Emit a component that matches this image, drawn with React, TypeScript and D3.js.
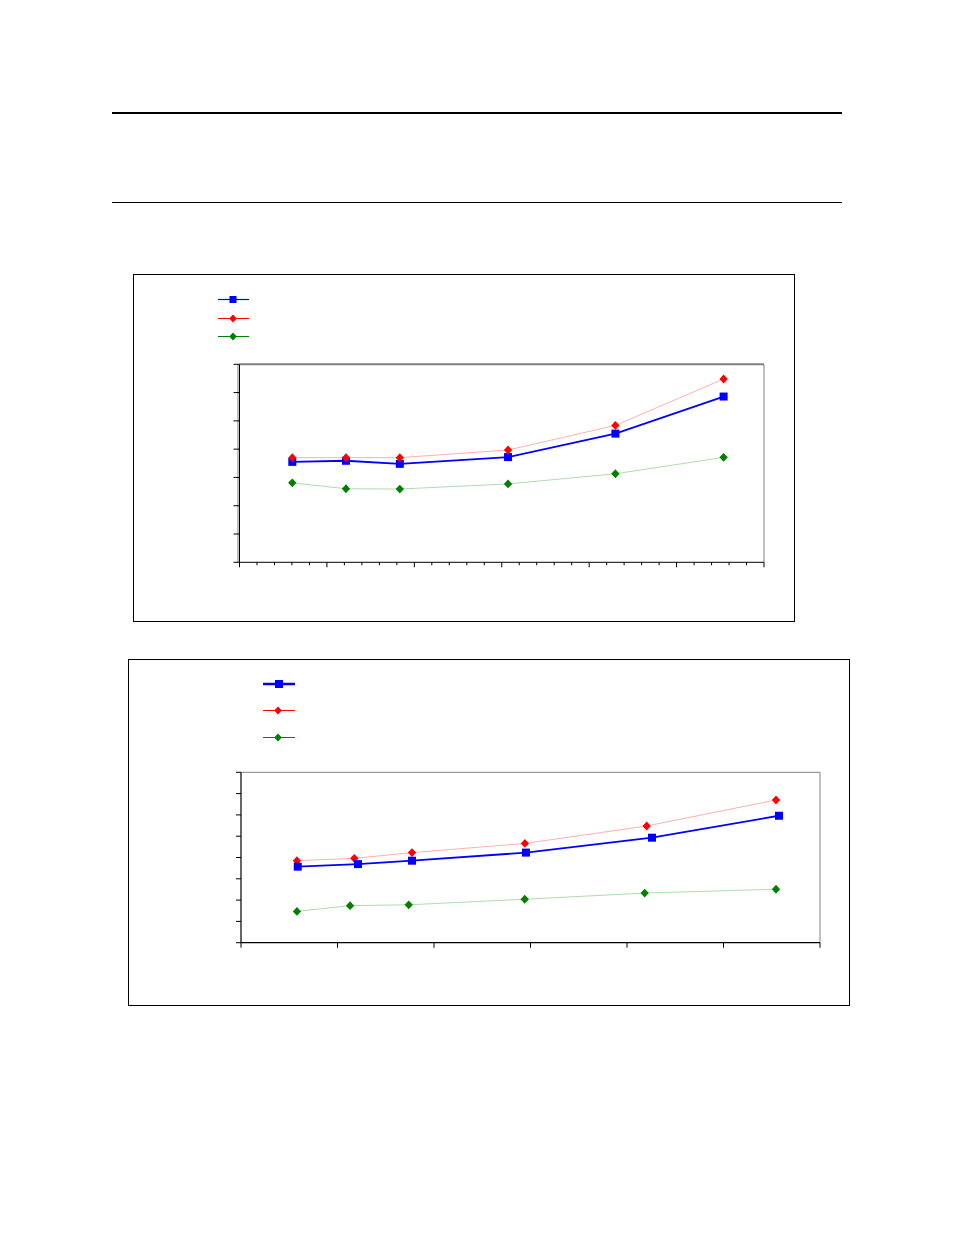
import React from "react";
import * as d3 from "d3";

// Chart 1 data
const c1X = [3.02, 6.09, 9.17, 15.36, 21.5, 27.69];
const c1Blue = [3.55, 3.59, 3.48, 3.72, 4.55, 5.86];
const c1Red = [3.7, 3.7, 3.7, 3.97, 4.84, 6.48];
const c1Green = [2.81, 2.6, 2.59, 2.77, 3.13, 3.71];
const c1YTicks = [0, 1, 2, 3, 4, 5, 6, 7];
const c1XMajor = [0, 5, 10, 15, 20, 25, 30];

// Chart 2 data
const c2XBlue = [5.88, 12.12, 17.72, 29.53, 42.59, 55.75];
const c2XRed = [5.8, 11.74, 17.72, 29.42, 42.04, 55.44];
const c2XGreen = [5.8, 11.3, 17.38, 29.4, 41.83, 55.44];
const c2Blue = [3.57, 3.69, 3.85, 4.23, 4.93, 5.96];
const c2Red = [3.85, 3.96, 4.23, 4.66, 5.48, 6.7];
const c2Green = [1.47, 1.74, 1.78, 2.04, 2.33, 2.51];
const c2YTicks = [0, 1, 2, 3, 4, 5, 6, 7, 8];
const c2XMajor = [0, 10, 20, 30, 40, 50, 60];

const BLUE = "#0000ff";
const RED = "#ff0000";
const GREEN = "#008000";
const PINK = "#ffb0b0";
const LGREEN = "#b0dcb0";

function Square({ x, y, s = 8 }: { x: number; y: number; s?: number }) {
  return <rect x={x - s / 2} y={y - s / 2} width={s} height={s} fill={BLUE} />;
}
function Diamond({ x, y, r = 4.4, c }: { x: number; y: number; r?: number; c: string }) {
  return <path d={`M${x},${y - r}L${x + r * 0.95},${y}L${x},${y + r}L${x - r * 0.95},${y}Z`} fill={c} />;
}

function Chart1() {
  const x = d3.scaleLinear().domain([0, 30]).range([239.5, 764]);
  const y = d3.scaleLinear().domain([0, 7]).range([562.3, 364.3]);
  const line = d3.line<[number, number]>().x((d) => x(d[0])).y((d) => y(d[1]));
  const minor = d3.range(0, 31, 1).filter((v) => v % 5 !== 0);
  const pts = (ys: number[]) => c1X.map((v, i) => [v, ys[i]] as [number, number]);
  return (
    <g>
      <rect x={133.5} y={274.5} width={661} height={347} fill="none" stroke="#000" strokeWidth={1} />
      {/* legend */}
      <line x1={218} x2={249} y1={299.5} y2={299.5} stroke={BLUE} strokeWidth={1.2} />
      <Square x={233} y={299.5} s={7} />
      <line x1={218} x2={249} y1={318.5} y2={318.5} stroke={RED} strokeWidth={1} />
      <Diamond x={233} y={318.5} r={4} c={RED} />
      <line x1={218} x2={249} y1={336.5} y2={336.5} stroke={GREEN} strokeWidth={1} />
      <Diamond x={233} y={336.5} r={4} c={GREEN} />
      {/* plot frame */}
      <line x1={x(0)} x2={x(30)} y1={y(7)} y2={y(7)} stroke="#808080" strokeWidth={2} />
      <line x1={x(30)} x2={x(30)} y1={y(7)} y2={y(0)} stroke="#808080" strokeWidth={1} />
      <line x1={x(0) - 1.5} x2={x(0) - 1.5} y1={y(7)} y2={y(0)} stroke="#808080" strokeWidth={1} />
      <line x1={x(0)} x2={x(0)} y1={y(7)} y2={y(0)} stroke="#000" strokeWidth={1} />
      <line x1={x(0)} x2={x(30)} y1={y(0)} y2={y(0)} stroke="#000" strokeWidth={1} />
      {c1YTicks.map((t) => (
        <line key={t} x1={x(0) - 6} x2={x(0)} y1={y(t)} y2={y(t)} stroke="#000" strokeWidth={1} />
      ))}
      {c1XMajor.map((t) => (
        <line key={t} x1={x(t)} x2={x(t)} y1={y(0)} y2={y(0) + 5} stroke="#000" strokeWidth={1} />
      ))}
      {minor.map((t) => (
        <line key={t} x1={x(t)} x2={x(t)} y1={y(0)} y2={y(0) + 3} stroke="#000" strokeWidth={1} />
      ))}
      {/* series */}
      <path d={line(pts(c1Red))!} fill="none" stroke={PINK} strokeWidth={1} />
      <path d={line(pts(c1Green))!} fill="none" stroke={LGREEN} strokeWidth={1} />
      <path d={line(pts(c1Blue))!} fill="none" stroke={BLUE} strokeWidth={1.8} />
      {pts(c1Green).map((d, i) => <Diamond key={"g" + i} x={x(d[0])} y={y(d[1])} c={GREEN} />)}
      {pts(c1Blue).map((d, i) => <Square key={"b" + i} x={x(d[0])} y={y(d[1])} />)}
      {pts(c1Red).map((d, i) => <Diamond key={"r" + i} x={x(d[0])} y={y(d[1])} c={RED} />)}
    </g>
  );
}

function Chart2() {
  const x = d3.scaleLinear().domain([0, 60]).range([241, 820]);
  const y = d3.scaleLinear().domain([0, 8]).range([942.7, 772.3]);
  const line = d3.line<[number, number]>().x((d) => x(d[0])).y((d) => y(d[1]));
  const pts = (xs: number[], ys: number[]) => xs.map((v, i) => [v, ys[i]] as [number, number]);
  const b = pts(c2XBlue, c2Blue);
  const r = pts(c2XRed, c2Red);
  const g = pts(c2XGreen, c2Green);
  return (
    <g>
      <rect x={128.5} y={659.5} width={721} height={346} fill="none" stroke="#000" strokeWidth={1} />
      {/* legend */}
      <line x1={263} x2={295} y1={684} y2={684} stroke={BLUE} strokeWidth={2.5} />
      <Square x={279} y={684} s={8} />
      <line x1={263} x2={295} y1={710.5} y2={710.5} stroke={RED} strokeWidth={1} />
      <Diamond x={278} y={710.5} r={4} c={RED} />
      <line x1={263} x2={295} y1={737.5} y2={737.5} stroke={GREEN} strokeWidth={1} />
      <Diamond x={278} y={737.5} r={4} c={GREEN} />
      {/* frame */}
      <line x1={x(0)} x2={x(60)} y1={y(8)} y2={y(8)} stroke="#808080" strokeWidth={1} />
      <line x1={x(60)} x2={x(60)} y1={y(8)} y2={y(0)} stroke="#808080" strokeWidth={1} />
      <line x1={x(0)} x2={x(0)} y1={y(8)} y2={y(0)} stroke="#000" strokeWidth={1.2} />
      <line x1={x(0)} x2={x(60)} y1={y(0)} y2={y(0)} stroke="#000" strokeWidth={1.2} />
      {c2YTicks.map((t) => (
        <line key={t} x1={x(0) - 5} x2={x(0)} y1={y(t)} y2={y(t)} stroke="#000" strokeWidth={1} />
      ))}
      {c2XMajor.map((t) => (
        <line key={t} x1={x(t)} x2={x(t)} y1={y(0)} y2={y(0) + 5} stroke="#000" strokeWidth={1} />
      ))}
      {/* series */}
      <path d={line(r)!} fill="none" stroke={PINK} strokeWidth={1} />
      <path d={line(g)!} fill="none" stroke={LGREEN} strokeWidth={1} />
      <path d={line(b)!} fill="none" stroke={BLUE} strokeWidth={1.8} />
      {g.map((d, i) => <Diamond key={"g" + i} x={x(d[0])} y={y(d[1])} c={GREEN} />)}
      {r.map((d, i) => <Diamond key={"r" + i} x={x(d[0])} y={y(d[1])} c={RED} />)}
      {b.map((d, i) => <Square key={"b" + i} x={x(d[0])} y={y(d[1])} />)}
    </g>
  );
}

export default function App() {
  return (
    <svg
      width={954}
      height={1235}
      style={{ position: "absolute", left: 0, top: 0, background: "#fff" }}
    >
      <rect x={0} y={0} width={954} height={1235} fill="#fff" />
      <line x1={112} x2={842} y1={113} y2={113} stroke="#000" strokeWidth={2} />
      <line x1={112} x2={842} y1={202.5} y2={202.5} stroke="#000" strokeWidth={1} />
      <Chart1 />
      <Chart2 />
    </svg>
  );
}
